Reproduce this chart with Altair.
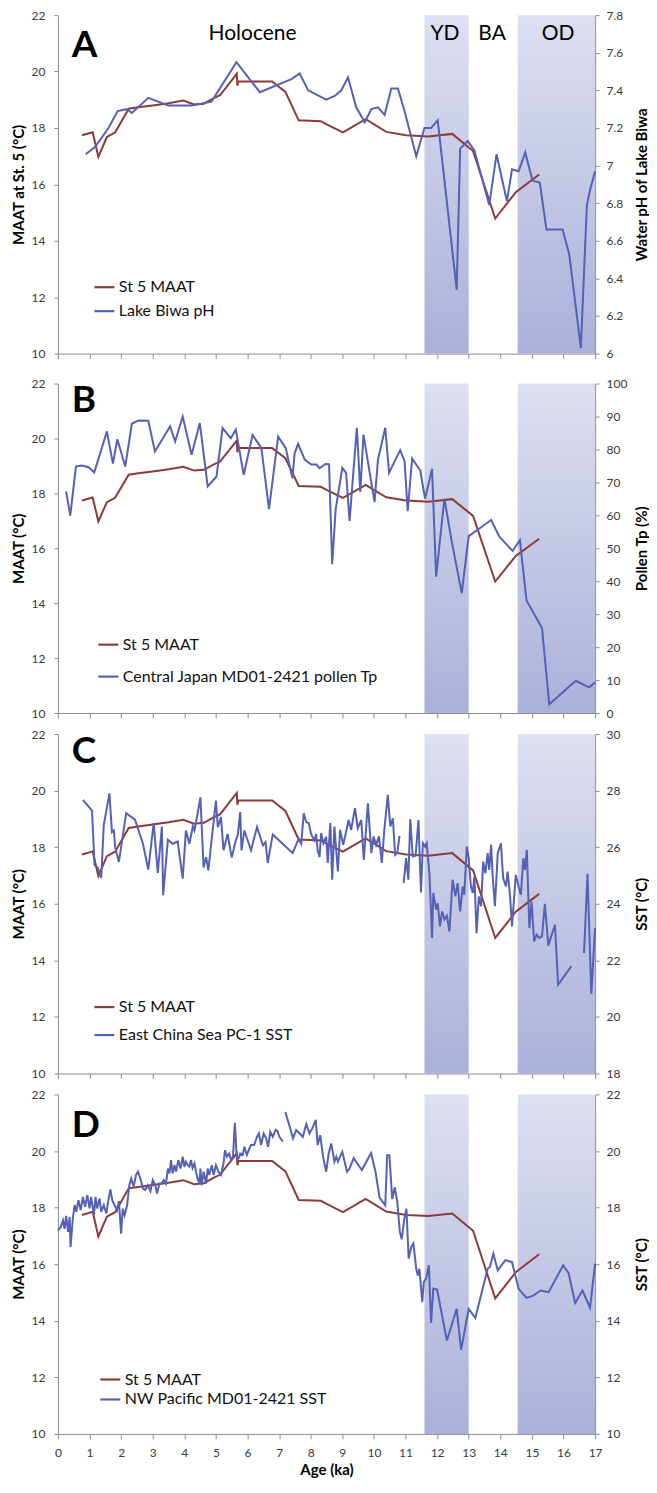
import altair as alt
import pandas as pd

FONT = "Lato"
BROWN = "#8e3b36"
BLUE = "#5561b5"
AXIS_GRAY = "#8c8c8c"
LABEL_GRAY = "#3a3a3a"

MAAT_LABEL = "St 5 MAAT"

# ---- St 5 MAAT (left axis, all panels) ----
maat_age = [0.76, 1.10, 1.28, 1.55, 1.81, 2.24, 2.60, 3.00, 3.50, 3.97, 4.31, 4.62, 4.92, 5.13, 5.66,
            5.68, 5.71, 6.00, 6.78, 7.20, 7.62, 8.32, 8.52, 9.02, 9.74, 10.39, 11.02, 11.72, 12.48, 13.14,
            13.84, 14.49, 15.23]
maat_val = [17.74, 17.85, 16.98, 17.68, 17.84, 18.68, 18.74, 18.80, 18.88, 18.97, 18.83, 18.86, 19.05, 19.16, 19.92,
            19.50, 19.65, 19.65, 19.65, 19.28, 18.27, 18.24, 18.12, 17.84, 18.31, 17.86, 17.74, 17.70, 17.79, 17.18,
            14.79, 15.72, 16.35]

# ---- A: Lake Biwa pH ----
biwa_age = [0.88, 1.18, 1.60, 1.89, 2.18, 2.34, 2.86, 3.49, 4.23, 4.86, 5.65, 6.39, 7.39, 7.65, 7.92, 8.49, 8.76,
            8.97, 9.18, 9.44, 9.71, 9.92, 10.13, 10.34, 10.55, 10.76, 10.97, 11.34, 11.60, 11.81, 12.02, 12.62,
            12.73, 12.97, 13.18, 13.65, 13.88, 14.21, 14.37, 14.58, 14.79, 15.02, 15.25, 15.46, 15.97, 16.18,
            16.55, 16.74, 16.84, 17.00]
biwa_ph = [7.06, 7.10, 7.20, 7.29, 7.30, 7.28, 7.36, 7.32, 7.32, 7.34, 7.55, 7.39, 7.46, 7.49, 7.40, 7.35, 7.37,
           7.40, 7.47, 7.31, 7.23, 7.30, 7.31, 7.27, 7.41, 7.41, 7.29, 7.05, 7.20, 7.20, 7.24, 6.34,
           7.09, 7.13, 7.08, 6.79, 7.06, 6.81, 6.98, 6.97, 7.07, 6.92, 6.91, 6.66, 6.66, 6.53,
           6.03, 6.79, 6.87, 6.97]

# ---- B: Central Japan MD01-2421 pollen Tp ----
pollen_age = [0.26, 0.39, 0.57, 0.76, 0.97, 1.15, 1.55, 1.74, 1.88, 2.13, 2.34, 2.55, 2.86, 3.07, 3.55,
              3.71, 3.95, 4.23, 4.49, 4.74, 5.02, 5.21, 5.47, 5.63, 5.88, 6.16, 6.44, 6.68, 6.97, 7.21,
              7.42, 7.49, 7.60, 7.81, 8.02, 8.18, 8.28, 8.47, 8.58, 8.68, 8.79, 9.00, 9.12, 9.23, 9.46,
              9.57, 9.67, 10.02, 10.13, 10.36, 10.48, 10.83, 10.97, 11.07, 11.21, 11.47, 11.55, 11.62, 11.84, 11.97,
              12.23, 12.47, 12.78, 13.00, 13.34, 13.71, 13.97, 14.39, 14.62, 14.83, 15.32, 15.55, 16.39, 16.81, 17.00]
pollen_tp = [67.3, 59.9, 74.8, 75.1, 74.6, 73.0, 85.5, 75.7, 83.1, 74.8, 87.8, 88.8, 88.7, 79.4, 87.0,
             82.4, 90.0, 78.4, 88.0, 68.8, 71.8, 86.5, 83.4, 86.0, 72.3, 84.4, 80.4, 61.9, 83.9, 80.4,
             71.3, 78.7, 81.7, 76.9, 75.4, 75.4, 74.3, 75.6, 75.5, 45.2, 61.8, 74.4, 72.9, 58.3, 86.6,
             67.1, 84.5, 64.0, 77.0, 86.6, 72.9, 79.8, 76.5, 61.3, 77.2, 73.6, 68.9, 65.1, 74.1, 41.4,
             65.1, 51.7, 36.4, 53.7, 56.0, 58.6, 53.5, 49.2, 52.5, 34.2, 25.8, 2.7, 9.8, 7.8, 9.3]

# ---- C: East China Sea PC-1 SST (None = gap in record) ----
ecs_age = [0.79, 1.08, 1.16, 1.26, 1.37, 1.45, 1.63, 1.71, 1.77, 1.81, 1.93, 2.16, 2.44, 2.69, 2.86,
           3.03, 3.16, 3.29, 3.33, 3.48, 3.63, 3.79, 3.95, 4.05, 4.16, 4.27, 4.32, 4.40, 4.51, 4.61,
           4.69, 4.76, 5.00, 5.06, 5.16, 5.24, 5.37, 5.50, 5.63, 5.69, 5.77, 5.81, 5.90, 6.11, 6.30,
           6.49, 6.57, 6.64, 6.80, 7.11, 7.43, 7.62, 7.70, 7.78, 7.86, 7.94, 8.01, 8.12, 8.17, 8.22,
           8.28, 8.33, 8.40, 8.49, 8.54, 8.62, 8.68, 8.75, 8.86, 8.93, 9.03, 9.20, 9.28, 9.40, 9.49,
           9.60, 9.68, 9.81, 9.92, 9.99, 10.07, 10.16, 10.25, 10.33, 10.44, 10.52, 10.60, 10.67, 10.74, 10.81,
           10.87,
           10.94, 11.02, 11.09, 11.15, 11.23, 11.32, 11.41, 11.49, 11.55, 11.62, 11.67, 11.76, 11.84, 11.88,
           11.97, 12.02, 12.09, 12.16, 12.23, 12.31, 12.39, 12.49, 12.58, 12.65, 12.73, 12.81, 12.86, 12.94,
           13.00, 13.07, 13.13, 13.18, 13.25, 13.32, 13.39, 13.46, 13.53, 13.60, 13.65, 13.71, 13.76, 13.83,
           13.92, 14.02, 14.09, 14.18, 14.23, 14.31, 14.37, 14.49, 14.58, 14.65, 14.73, 14.78, 14.84, 14.92,
           14.99, 15.07, 15.15, 15.23, 15.32, 15.41, 15.52, 15.73, 15.83, 16.25,
           16.45,
           16.65, 16.76, 16.88, 17.00]
ecs_sst = [27.67, 27.29, 25.36, 25.28, 24.91, 26.77, 27.90, 26.53, 26.59, 26.00, 25.48, 27.20, 26.97, 26.12, 25.21,
           26.85, 25.09, 26.73, 24.30, 26.26, 26.12, 26.20, 24.89, 26.59, 26.12, 26.73, 26.59, 27.06, 27.76, 25.28,
           25.65, 25.18, 27.65, 26.71, 27.06, 25.89, 26.47, 25.63, 26.24, 26.41, 27.24, 25.89, 26.59, 25.89, 26.71,
           26.06, 26.18, 25.44, 26.45, 26.12, 25.79, 26.30, 26.12, 27.20, 26.88, 26.85, 26.47, 26.24, 26.47, 25.89,
           25.65, 26.50, 26.14, 26.37, 25.44, 26.85, 24.85, 26.73, 25.14, 26.61, 26.08, 26.96, 26.61, 27.38, 26.67,
           26.96, 25.55, 27.55, 25.79, 26.38, 26.08, 26.38, 25.44, 26.61, 27.85, 26.73, 27.02, 25.73, 25.80, 26.40,
           None,
           24.73, 25.61, 24.85, 26.99, 25.67, 25.70, 26.96, 24.40, 26.14, 26.02, 26.14, 25.02, 22.79, 24.38,
           23.79, 24.02, 23.20, 23.73, 23.44, 23.58, 23.02, 24.85, 24.26, 24.73, 23.73, 24.61, 24.32, 26.02,
           25.61, 24.61, 24.38, 24.96, 22.96, 24.26, 23.91, 25.49, 25.08, 25.79, 25.20, 26.08, 24.96, 23.91,
           25.79, 26.14, 24.91, 24.61, 25.14, 24.26, 23.20, 25.02, 24.61, 24.32, 25.61, 25.20, 25.91, 23.14,
           24.08, 22.67, 22.91, 22.79, 22.85, 24.00, 22.52, 23.26, 21.14, 21.79,
           None,
           22.26, 25.06, 20.82, 23.14]

# ---- D: NW Pacific MD01-2421 SST (None = gap in record) ----
nwp_age = [0.00, 0.08, 0.16, 0.21, 0.26, 0.32, 0.37, 0.40, 0.47, 0.53, 0.58, 0.65, 0.72, 0.79, 0.86,
           0.93, 1.00, 1.05, 1.14, 1.19, 1.24, 1.32, 1.37, 1.45, 1.53, 1.58, 1.66, 1.72, 1.79, 1.87,
           1.93, 2.00, 2.05, 2.11, 2.19, 2.26, 2.32, 2.40, 2.47, 2.53, 2.61, 2.69, 2.76, 2.84, 2.93,
           3.00, 3.08, 3.14, 3.21, 3.28, 3.35, 3.42, 3.48, 3.53, 3.58, 3.63, 3.69, 3.74, 3.81, 3.88,
           3.95, 4.00, 4.05, 4.11, 4.16, 4.21, 4.26, 4.32, 4.37, 4.42, 4.48, 4.51, 4.55, 4.61, 4.69,
           4.74, 4.79, 4.87, 4.93, 5.00, 5.08, 5.16, 5.24, 5.29, 5.35, 5.42, 5.48, 5.54, 5.60, 5.66,
           5.72, 5.77, 5.85, 5.90, 5.98, 6.06, 6.11, 6.21, 6.30, 6.36, 6.43, 6.51, 6.59, 6.65, 6.72,
           6.80, 6.89, 6.95, 7.01, 7.12,
           7.16,
           7.20, 7.44, 7.54, 7.65, 7.75, 7.86, 7.96, 8.05, 8.16, 8.22, 8.30, 8.40, 8.49, 8.57, 8.65,
           8.75, 8.81, 8.86, 9.00, 9.15, 9.23, 9.36, 9.62, 9.91, 10.05, 10.18, 10.36, 10.42, 10.49, 10.58,
           10.66, 10.74, 10.82, 10.88, 10.96, 11.03, 11.10, 11.18, 11.25, 11.34, 11.39, 11.44, 11.53, 11.58, 11.65,
           11.74, 11.81, 11.88, 12.00, 12.31, 12.62, 12.76, 13.00, 13.21, 13.60, 13.67, 13.78, 13.92, 14.16, 14.37,
           14.58, 14.83, 15.04, 15.28, 15.53, 15.99, 16.16, 16.37, 16.60, 16.84, 17.00]
nwp_sst = [17.20, 17.30, 17.55, 17.25, 17.71, 17.14, 17.67, 16.61, 17.61, 18.09, 17.85, 18.26, 17.91, 18.38, 18.03,
           18.44, 17.97, 18.38, 17.73, 18.38, 17.97, 18.32, 17.85, 18.09, 17.79, 18.15, 18.64, 18.26, 18.09, 17.91,
           18.23, 17.08, 17.97, 17.73, 18.09, 18.79, 19.03, 18.74, 19.15, 19.27, 19.03, 18.68, 18.62, 18.79, 18.58,
           18.97, 18.79, 18.50, 18.85, 18.85, 18.97, 18.85, 19.38, 19.21, 19.68, 19.21, 19.50, 19.27, 19.68, 19.38,
           19.80, 19.44, 19.62, 19.50, 19.45, 19.68, 19.40, 19.56, 19.27, 19.03, 18.85, 19.38, 18.79, 19.27, 18.85,
           19.38, 19.15, 19.50, 19.15, 19.50, 19.27, 19.15, 19.56, 20.03, 19.80, 19.91, 19.68, 19.80, 21.00, 19.74,
           19.74, 19.91, 19.86, 20.15, 19.86, 20.09, 20.21, 20.21, 20.50, 20.62, 20.21, 20.62, 20.45, 20.15, 20.68,
           20.50, 20.75, 20.70, 20.50, 20.33,
           None,
           21.38, 20.45, 20.74, 20.62, 20.50, 20.95, 20.62, 20.80, 21.10, 20.21, 20.56, 19.74, 19.27, 19.92, 20.27,
           19.62, 19.80, 19.62, 19.97, 19.27, 19.38, 19.75, 19.33, 19.93, 19.27, 18.35, 18.08, 19.85, 19.85, 18.30,
           18.72, 18.20, 17.15, 16.88, 17.58, 17.96, 16.20, 16.60, 16.73, 15.84, 15.60, 15.84, 14.66, 15.37, 15.49,
           15.96, 13.92, 15.14, 15.10, 13.30, 14.42, 12.97, 14.42, 14.10, 15.84, 15.90, 16.37, 15.78, 16.14, 16.08,
           15.13, 14.81, 14.89, 15.07, 15.01, 15.96, 15.69, 14.63, 15.07, 14.46, 16.02]

# ---- shaded intervals (YD, OD) ----
band_start = [11.6, 14.55]
band_end = [13.0, 17.0]

# ---- annotations ----
period_labels = ["Holocene", "YD", "BA", "OD"]
period_age = [6.16, 12.25, 13.74, 15.83]
period_val = [21.33, 21.33, 21.33, 21.33]

panel_letters = ["A", "B", "C", "D"]
letter_age = [0.44, 0.44, 0.44, 0.44]
letter_val = [20.9, 21.35, 21.36, 20.87]

for a, b in [(maat_age, maat_val), (biwa_age, biwa_ph), (pollen_age, pollen_tp),
             (ecs_age, ecs_sst), (nwp_age, nwp_sst)]:
    assert len(a) == len(b), (len(a), len(b))


def series_df(ages, vals, label):
    rows, seg = [], 0
    for a, v in zip(ages, vals):
        if v is None:
            seg += 1
            continue
        rows.append({"age": a, "val": v, "seg": seg, "series": label})
    return pd.DataFrame(rows)


band_df = pd.DataFrame({"start": band_start, "end": band_end})
band_fill = alt.Gradient(
    gradient="linear",
    stops=[alt.GradientStop(color="#dde0f1", offset=0),
           alt.GradientStop(color="#abb0da", offset=1)],
    x1=0, x2=0, y1=0, y2=1,
)

X_SCALE = alt.Scale(domain=[0, 17], nice=False, zero=False)


def x_axis(last):
    kw = dict(values=list(range(18)), labels=last, grid=False, labelFlush=False, labelOverlap=False,
              domainColor=AXIS_GRAY, tickColor=AXIS_GRAY, tickSize=5,
              labelFont=FONT, labelFontSize=12, labelColor=LABEL_GRAY, labelPadding=9,
              titleFont=FONT, titleFontSize=15, titleFontWeight="bold", titleColor="black", titlePadding=4)
    kw["title"] = "Age (ka)" if last else None
    return alt.Axis(**kw)


def left_axis(title, h):
    return alt.Axis(values=[10, 12, 14, 16, 18, 20, 22], title=title, orient="left", grid=False,
                    domainColor=AXIS_GRAY, tickColor=AXIS_GRAY, tickSize=4, labelPadding=9,
                    labelFont=FONT, labelFontSize=12, labelColor=LABEL_GRAY,
                    titleFont=FONT, titleFontSize=15, titleFontWeight="bold", titleColor="black",
                    titleAngle=270, titleX=-46, titleY=h / 2, titleAlign="center", titleBaseline="top")


def right_axis(title, values, fmt, h):
    return alt.Axis(values=values, format=fmt, title=title, orient="right", grid=False,
                    domainColor=AXIS_GRAY, tickColor=AXIS_GRAY, tickSize=4, labelPadding=7,
                    labelFont=FONT, labelFontSize=12, labelColor=LABEL_GRAY,
                    titleFont=FONT, titleFontSize=15, titleFontWeight="bold", titleColor="black",
                    titleAngle=270, titleX=39, titleY=h / 2, titleAlign="center", titleBaseline="top")


maat_df_base = series_df(maat_age, maat_val, MAAT_LABEL)


def make_panel(idx, blue_df, blue_label, left_title, right_title, r_domain, r_values, r_fmt,
               height, leg_x, leg_y, leg_pad, last=False, periods=False):
    xe = alt.X("age:Q", scale=X_SCALE, axis=x_axis(last))
    color = alt.Color(
        "series:N",
        scale=alt.Scale(domain=[MAAT_LABEL, blue_label], range=[BROWN, BLUE]),
        legend=alt.Legend(orient="none", legendX=leg_x, legendY=leg_y, title=None,
                          symbolType="stroke", symbolSize=400, symbolStrokeWidth=2.2,
                          labelFont=FONT, labelFontSize=16, labelColor="#111111", labelOffset=3,
                          labelLimit=500, rowPadding=leg_pad, direction="vertical"),
    )
    bands = alt.Chart(band_df).mark_rect(fill=band_fill, opacity=1).encode(
        x=alt.X("start:Q", scale=X_SCALE, axis=x_axis(last)), x2="end:Q")
    maat = alt.Chart(maat_df_base).mark_line(strokeWidth=2).encode(
        x=xe,
        y=alt.Y("val:Q", scale=alt.Scale(domain=[10, 22], nice=False, zero=False),
                axis=left_axis(left_title, height)),
        color=color,
    )
    blue = alt.Chart(blue_df).mark_line(strokeWidth=2).encode(
        x=xe,
        y=alt.Y("val:Q", scale=alt.Scale(domain=r_domain, nice=False, zero=False),
                axis=right_axis(right_title, r_values, r_fmt, height)),
        color=color,
        detail="seg:N",
    )
    letter_df = pd.DataFrame({"age": [letter_age[idx]], "val": [letter_val[idx]], "label": [panel_letters[idx]]})
    letter = alt.Chart(letter_df).mark_text(font=FONT, fontSize=37, fontWeight="bold", align="left",
                                            baseline="middle", color="black").encode(
        x=xe,
        y=alt.Y("val:Q", scale=alt.Scale(domain=[10, 22], nice=False, zero=False), axis=None),
        text="label:N",
    )
    layers = [bands, maat, blue, letter]
    if periods:
        pdf = pd.DataFrame({"age": period_age, "val": period_val, "label": period_labels})
        ptext = alt.Chart(pdf).mark_text(font=FONT, fontSize=21, align="center", baseline="middle",
                                         color="black").encode(
            x=xe,
            y=alt.Y("val:Q", scale=alt.Scale(domain=[10, 22], nice=False, zero=False), axis=None),
            text="label:N",
        )
        layers.append(ptext)
    return alt.layer(*layers).resolve_scale(y="independent").properties(width=538, height=height)


ph_vals = [round(6 + 0.2 * i, 1) for i in range(10)]

pA = make_panel(0, series_df(biwa_age, biwa_ph, "Lake Biwa pH"), "Lake Biwa pH",
                "MAAT at St. 5 (°C)", "Water pH of Lake Biwa", [6, 7.8], ph_vals, ".1~f",
                339, 35, 261, 4, periods=True)
pB = make_panel(1, series_df(pollen_age, pollen_tp, "Central Japan MD01-2421 pollen Tp"),
                "Central Japan MD01-2421 pollen Tp",
                "MAAT (°C)", "Pollen Tp (%)", [0, 100], list(range(0, 101, 10)), "d",
                330, 39, 250, 12)
pC = make_panel(2, series_df(ecs_age, ecs_sst, "East China Sea PC-1 SST"), "East China Sea PC-1 SST",
                "MAAT (°C)", "SST (°C)", [18, 30], list(range(18, 31, 2)), "d",
                340, 35, 262, 8)
pD = make_panel(3, series_df(nwp_age, nwp_sst, "NW Pacific MD01-2421 SST"), "NW Pacific MD01-2421 SST",
                "MAAT (°C)", "SST (°C)", [10, 22], list(range(10, 23, 2)), "d",
                340, 41, 274, 0, last=True)

inner = alt.vconcat(pB, pC, pD, spacing=9).resolve_scale(color="independent").resolve_legend(color="independent")
chart = alt.vconcat(pA, inner, spacing=18).resolve_scale(color="independent").resolve_legend(
    color="independent").configure_view(stroke=None).properties(
    padding={"left": 4, "top": 0, "right": 0, "bottom": 0})

chart.save("out.html", embed_options={"renderer": "svg", "actions": False})
